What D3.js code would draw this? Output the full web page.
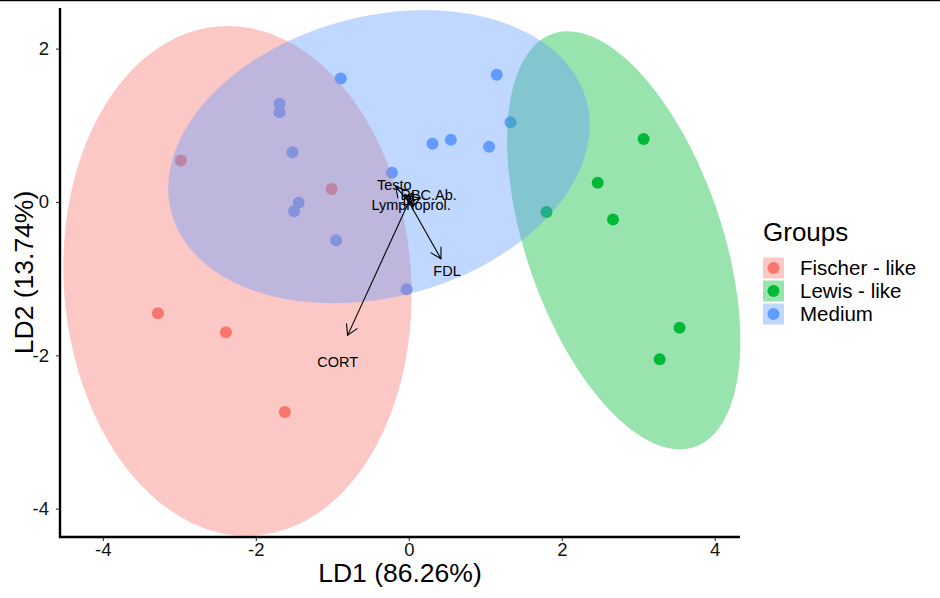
<!DOCTYPE html>
<html>
<head>
<meta charset="utf-8">
<script src="https://cdn.jsdelivr.net/npm/d3@7"></script>
<style>
  body { margin: 0; background: #fff; }
  svg { display: block; font-family: "Liberation Sans", Arial, sans-serif; }
</style>
</head>
<body>
<script>
'use strict';

const width = 940;
const height = 598;
const plotLeft = 60;
const plotRight = 740;
const plotTop = 8;
const plotBottom = 537;

// groups
const groups = ['Fischer - like', 'Lewis - like', 'Medium'];
const groupColors = ['#F8766D', '#00BA38', '#619CFF'];

// LD scores per group
const fischerLD1 = [-3.28, -2.39, -1.62, -2.98, -1.01];
const fischerLD2 = [-1.45, -1.70, -2.74, 0.54, 0.17];
const lewisLD1 = [3.07, 2.47, 2.67, 1.80, 3.54, 3.28];
const lewisLD2 = [0.82, 0.25, -0.23, -0.13, -1.64, -2.05];
const mediumLD1 = [-0.89, -1.69, -1.69, -1.52, -1.44, -1.50, -0.95, -0.22, 0.31, 0.55, 1.05, 1.15, 1.33, -0.03];
const mediumLD2 = [1.61, 1.28, 1.17, 0.65, -0.01, -0.12, -0.50, 0.38, 0.76, 0.81, 0.72, 1.66, 1.04, -1.14];

// 95% ellipses: center, semi axes, angle of major axis (deg)
const ellCenterX = [-2.24, 2.81, -0.39];
const ellCenterY = [-1.03, -0.50, 0.59];
const ellMajor = [3.33, 2.85, 2.81];
const ellMinor = [2.27, 1.28, 1.83];
const ellAngle = [94, 109, 15];

// loadings (arrows) and their labels
const varNames = ['CORT', 'FDL', 'Testo', 'RBC.Ab.', 'Lymphoprol.', '', ''];
const arrowX = [-0.80, 0.42, -0.17, 0.15, 0.06, 0.05, -0.05];
const arrowY = [-1.74, -0.74, 0.20, 0.05, -0.04, 0.12, 0.10];
const labelX = [-0.93, 0.50, -0.19, 0.26, 0.03, 0, 0];
const labelY = [-2.09, -0.90, 0.22, 0.09, -0.04, 0, 0];

const xTicks = [-4, -2, 0, 2, 4];
const yTicks = [-4, -2, 0, 2];

const x = d3.scaleLinear().domain([-4.56, 4.33]).range([plotLeft, plotRight]);
const y = d3.scaleLinear().domain([-4.37, 2.53]).range([plotBottom, plotTop]);

const svg = d3.select('body').append('svg').attr('width', width).attr('height', height);

// stray line at the very top
svg.append('line').attr('x1', 0).attr('x2', width).attr('y1', 0.5).attr('y2', 0.5)
    .attr('stroke', '#000').attr('stroke-width', 1.5);

const points = [];
[[fischerLD1, fischerLD2], [lewisLD1, lewisLD2], [mediumLD1, mediumLD2]].forEach((p, g) => {
    p[0].forEach((v, i) => points.push({ g: g, x: v, y: p[1][i] }));
});

svg.append('g').selectAll('circle')
    .data(points)
    .join('circle')
    .attr('cx', d => x(d.x))
    .attr('cy', d => y(d.y))
    .attr('r', 6)
    .attr('fill', d => groupColors[d.g]);

function ellipsePoints(g) {
    const a = ellAngle[g] * Math.PI / 180;
    const pts = [];
    for (let k = 0; k <= 100; k++) {
        const t = k / 100 * 2 * Math.PI;
        const u = ellMajor[g] * Math.cos(t);
        const v = ellMinor[g] * Math.sin(t);
        pts.push([ellCenterX[g] + u * Math.cos(a) - v * Math.sin(a),
                  ellCenterY[g] + u * Math.sin(a) + v * Math.cos(a)]);
    }
    return pts;
}

const line = d3.line().x(d => x(d[0])).y(d => y(d[1]));

svg.append('g').selectAll('path')
    .data(groups.map((g, i) => i))
    .join('path')
    .attr('d', g => line(ellipsePoints(g)) + 'Z')
    .attr('fill', g => groupColors[g])
    .attr('fill-opacity', 0.4);

// arrows
const arrows = svg.append('g').attr('stroke', '#000').attr('stroke-width', 1.1).attr('fill', 'none');
arrowX.forEach((ax, i) => {
    const x0 = x(0), y0 = y(0), x1 = x(ax), y1 = y(arrowY[i]);
    arrows.append('line').attr('x1', x0).attr('y1', y0).attr('x2', x1).attr('y2', y1);
    const ang = Math.atan2(y1 - y0, x1 - x0);
    const len = 12, spread = Math.PI / 6;
    arrows.append('path').attr('d', d3.line()([
        [x1 - len * Math.cos(ang - spread), y1 - len * Math.sin(ang - spread)],
        [x1, y1],
        [x1 - len * Math.cos(ang + spread), y1 - len * Math.sin(ang + spread)]
    ]));
});

svg.append('g').selectAll('text')
    .data(varNames.map((n, i) => i).filter(i => varNames[i] !== ''))
    .join('text')
    .attr('x', i => x(labelX[i]))
    .attr('y', i => y(labelY[i]))
    .attr('dy', '0.35em')
    .attr('text-anchor', 'middle')
    .attr('font-size', 14.5)
    .attr('fill', '#000')
    .text(i => varNames[i]);

// axes (plain hyphen for negatives, like the original)
const fmt = d => String(d);
const xAxis = svg.append('g')
    .attr('transform', 'translate(0,' + plotBottom + ')')
    .call(d3.axisBottom(x).tickValues(xTicks).tickSize(4).tickSizeOuter(0).tickPadding(2).tickFormat(fmt));
const yAxis = svg.append('g')
    .attr('transform', 'translate(' + plotLeft + ',0)')
    .call(d3.axisLeft(y).tickValues(yTicks).tickSize(4).tickSizeOuter(0).tickPadding(7).tickFormat(fmt));

[xAxis, yAxis].forEach(a => {
    a.select('.domain').remove();
    a.selectAll('.tick line').attr('stroke', '#333').attr('stroke-width', 1.1);
    a.selectAll('.tick text').attr('font-size', 18.5).attr('fill', '#111')
        .attr('font-family', '"Liberation Sans", Arial, sans-serif');
});

svg.append('path')
    .attr('d', 'M' + plotLeft + ',' + plotTop + 'V' + plotBottom + 'H' + plotRight)
    .attr('fill', 'none').attr('stroke', '#000').attr('stroke-width', 2.4);

svg.append('text')
    .attr('x', (plotLeft + plotRight) / 2)
    .attr('y', 582)
    .attr('text-anchor', 'middle')
    .attr('font-size', 26.5)
    .text('LD1 (86.26%)');

svg.append('text')
    .attr('transform', 'translate(33,' + ((plotTop + plotBottom) / 2) + ') rotate(-90)')
    .attr('text-anchor', 'middle')
    .attr('font-size', 26.5)
    .text('LD2 (13.74%)');

// legend
const legend = svg.append('g').attr('transform', 'translate(763,0)');
legend.append('text').attr('x', 0).attr('y', 241).attr('font-size', 26).text('Groups');
groups.forEach((g, i) => {
    const row = legend.append('g').attr('transform', 'translate(0,' + (257.5 + i * 23) + ')');
    row.append('rect').attr('width', 21).attr('height', 21)
        .attr('fill', groupColors[i]).attr('fill-opacity', 0.4);
    row.append('circle').attr('cx', 10.5).attr('cy', 10.5).attr('r', 6).attr('fill', groupColors[i]);
    row.append('text').attr('x', 37).attr('y', 10.5).attr('dy', '0.35em')
        .attr('font-size', 20.5).text(g);
});
</script>
</body>
</html>
